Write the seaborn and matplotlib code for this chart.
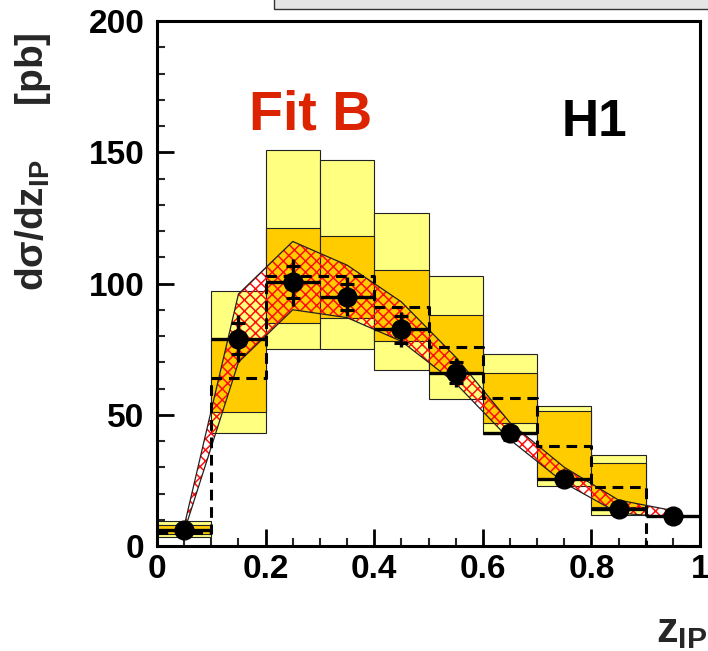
import numpy as np
import pandas as pd
import matplotlib
matplotlib.use("Agg")
import matplotlib.pyplot as plt
import seaborn as sns
from matplotlib.patches import Rectangle
from matplotlib.ticker import MultipleLocator, FixedLocator, FixedFormatter

# ---------------- data ----------------
z_edges = [0.0, 0.1, 0.2, 0.3, 0.4, 0.5, 0.6, 0.7, 0.8, 0.9, 1.0]
z_centers = [0.05, 0.15, 0.25, 0.35, 0.45, 0.55, 0.65, 0.75, 0.85, 0.95]
bin_halfwidth = [0.05] * 10

# H1 data points
xsec = [6.0, 79.0, 100.5, 95.0, 82.5, 66.0, 43.0, 25.5, 14.0, 11.5]
err_stat = [1.5, 6.0, 6.0, 5.0, 5.0, 4.0, 2.5, 2.0, 1.5, 1.5]
err_tot = [2.5, 9.0, 9.0, 7.5, 6.5, 5.5, 3.5, 3.0, 2.5, 3.0]

# Fit B prediction band (hatched)
band_hi = [7.5, 96.0, 116.0, 107.0, 93.0, 72.0, 47.0, 30.0, 17.5, 13.5]
band_lo = [5.5, 70.0, 90.0, 87.0, 78.0, 62.0, 40.5, 24.0, 12.5, 11.0]

# outer (light yellow) and inner (orange) uncertainty boxes
outer_lo = [3.5, 43.0, 75.0, 75.0, 67.0, 56.0, 42.5, 23.0, 12.0, 0.0]
outer_hi = [9.5, 97.0, 151.0, 147.0, 127.0, 103.0, 73.0, 53.5, 34.5, 0.0]
inner_lo = [4.5, 51.0, 85.0, 87.0, 78.0, 66.0, 47.0, 25.5, 15.0, 0.0]
inner_hi = [8.0, 79.0, 121.0, 118.0, 105.0, 88.0, 66.0, 51.5, 31.5, 0.0]

# dashed central histogram
dash_vals = [5.0, 64.0, 103.0, 103.0, 91.0, 76.0, 56.5, 38.0, 22.5, 0.0]

xtick_vals = [0.0, 0.2, 0.4, 0.6, 0.8, 1.0]
xtick_labels = ["0", "0.2", "0.4", "0.6", "0.8", "1"]
ytick_vals = [0, 50, 100, 150, 200]
ytick_labels = ["0", "50", "100", "150", "200"]

# ---------------- style ----------------
sns.set_theme(style="ticks")
plt.rcParams["font.family"] = ["Liberation Sans", "DejaVu Sans"]
plt.rcParams["font.weight"] = "bold"
plt.rcParams["mathtext.fontset"] = "custom"
plt.rcParams["mathtext.bf"] = "Liberation Sans:bold"
plt.rcParams["mathtext.rm"] = "Liberation Sans:bold"
plt.rcParams["mathtext.it"] = "Liberation Sans:bold"
plt.rcParams["mathtext.sf"] = "Liberation Sans:bold"
plt.rcParams["hatch.linewidth"] = 1.1

fig = plt.figure(figsize=(7.08, 6.51), dpi=100)
ax = fig.add_axes([157 / 708, 105 / 651, 543 / 708, 525 / 651])

df = pd.DataFrame({
    "z": z_centers, "hw": bin_halfwidth, "xs": xsec,
    "stat": err_stat, "tot": err_tot,
    "bhi": band_hi, "blo": band_lo,
    "olo": outer_lo, "ohi": outer_hi, "ilo": inner_lo, "ihi": inner_hi,
    "dash": dash_vals,
})
boxes = df[df["ohi"] > df["olo"]]

# outer boxes
ax.bar(boxes["z"], boxes["ohi"] - boxes["olo"], bottom=boxes["olo"],
       width=2 * boxes["hw"], color="#ffff80", edgecolor="#222222",
       linewidth=0.8, zorder=1)
# inner boxes
ax.bar(boxes["z"], boxes["ihi"] - boxes["ilo"], bottom=boxes["ilo"],
       width=2 * boxes["hw"], color="#ffcc00", edgecolor="#222222",
       linewidth=0.8, zorder=2)

# hatched Fit B band
ax.fill_between(df["z"], df["blo"], df["bhi"], facecolor="none",
                edgecolor="#ff1010", hatch="xxx", linewidth=0, zorder=3)
sns.lineplot(x=df["z"], y=df["bhi"], color="#222222", linewidth=0.9,
             ax=ax, zorder=3.5)
sns.lineplot(x=df["z"], y=df["blo"], color="#222222", linewidth=0.9,
             ax=ax, zorder=3.5)

# dashed histogram
sns.histplot(x=df["z"], weights=df["dash"], bins=z_edges, element="step",
             fill=False, color="black", linestyle=(0, (3.5, 2.2)),
             linewidth=2.2, ax=ax, zorder=4)

# data points
ax.errorbar(df["z"], df["xs"], xerr=df["hw"], yerr=df["tot"], fmt="o",
            color="black", markersize=13.5, elinewidth=2.4, capsize=0,
            zorder=6)
ax.errorbar(df["z"], df["xs"], yerr=df["stat"], fmt="none", ecolor="black",
            elinewidth=0, capsize=5, capthick=2.2, zorder=6)

# ---------------- axes ----------------
ax.set_xlim(0, 1)
ax.set_ylim(0, 200)
ax.set_xlabel("")
ax.set_ylabel("")
ax.xaxis.set_major_locator(FixedLocator(xtick_vals))
ax.xaxis.set_major_formatter(FixedFormatter(xtick_labels))
ax.xaxis.set_minor_locator(MultipleLocator(0.05))
ax.yaxis.set_major_locator(FixedLocator(ytick_vals))
ax.yaxis.set_major_formatter(FixedFormatter(ytick_labels))
ax.yaxis.set_minor_locator(MultipleLocator(10))
ax.tick_params(axis="both", which="major", direction="in", length=12,
               width=2.0, labelsize=24, colors="black")
ax.tick_params(axis="both", which="minor", direction="in", length=6,
               width=1.5)
ax.tick_params(axis="y", which="major", pad=9)
ax.tick_params(axis="x", which="major", pad=6)
ax.tick_params(top=False, right=False, which="both")
for sp in ax.spines.values():
    sp.set_visible(True)
    sp.set_linewidth(2.2)
    sp.set_color("black")
for lbl in ax.get_xticklabels() + ax.get_yticklabels():
    lbl.set_fontweight("bold")

# ---------------- texts ----------------
fig.text(249 / 708, 1 - 130 / 651, "Fit B", fontsize=40, color="#dc2400",
         fontweight="bold", ha="left", va="baseline")
fig.text(562 / 708, 1 - 136 / 651, "H1", fontsize=37, color="black",
         fontweight="bold", ha="left", va="baseline")
fig.text(707 / 708, 1 - 642 / 651, r"$\mathbf{z_{IP}}$", fontsize=31,
         ha="right", va="baseline")
fig.text(33 / 708, 1 - 162 / 651, r"$\mathbf{d\sigma/dz_{IP}}$     [pb]",
         rotation=90, fontsize=28, ha="center", va="center")

# grey strip at the top (title box remnant)
fig.add_artist(Rectangle((274 / 708, 1 - 9 / 651), 0.7, 0.05,
                         transform=fig.transFigure, facecolor="#e5e5e5",
                         edgecolor="#333333", linewidth=1.0, clip_on=False))

fig.savefig("out.png", dpi=100)
